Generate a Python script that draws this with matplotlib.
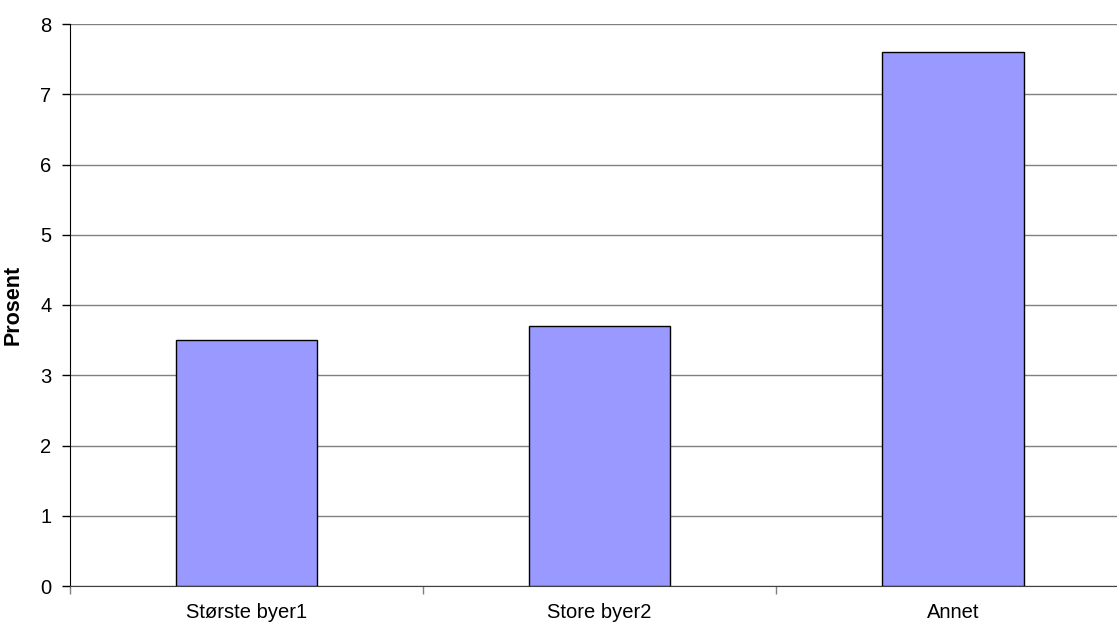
import numpy as np
import matplotlib.pyplot as plt
from matplotlib.ticker import FixedLocator, NullFormatter

plt.rcParams['font.family'] = ['Liberation Sans', 'DejaVu Sans']

# andel i prosent etter bostedstype
kategorier = ['Største byer1', 'Store byer2', 'Annet']
prosent = [3.5, 3.7, 7.6]

fig = plt.figure(figsize=(11.17, 6.26), dpi=100)
# plottet går litt ut over høyre kant
ax = fig.add_axes([69.5 / 1117, 1 - 586 / 626, 1060 / 1117, 562 / 626])

x = np.arange(len(kategorier))
ax.bar(x, prosent, width=0.4, color='#9999ff', edgecolor='black',
       linewidth=1, zorder=3)

ax.set_xlim(-0.5, len(kategorier) - 0.5)
ax.set_ylim(0, 8)
ax.set_yticks(range(0, 9))
ax.yaxis.grid(True, color='#808080', linewidth=1, zorder=0)

# delestreker mellom kategoriene, navn midt i
ax.xaxis.set_major_locator(FixedLocator(np.arange(-0.5, len(kategorier), 1.0)))
ax.xaxis.set_major_formatter(NullFormatter())
ax.set_xticks(x, minor=True)
ax.set_xticklabels(kategorier, minor=True)
ax.tick_params(axis='x', which='minor', length=0, pad=12, labelsize=14.5)
ax.tick_params(axis='x', which='major', length=6, color='#808080', width=1)
ax.tick_params(axis='y', length=6, width=1, labelsize=14.5, pad=7)

for s in ['top', 'right']:
    ax.spines[s].set_visible(False)
ax.spines['left'].set_color('black')
ax.spines['bottom'].set_color('#404040')

ax.set_ylabel('Prosent', fontweight='bold', fontsize=15.5, labelpad=12)

fig.savefig('out.png', dpi=100)
